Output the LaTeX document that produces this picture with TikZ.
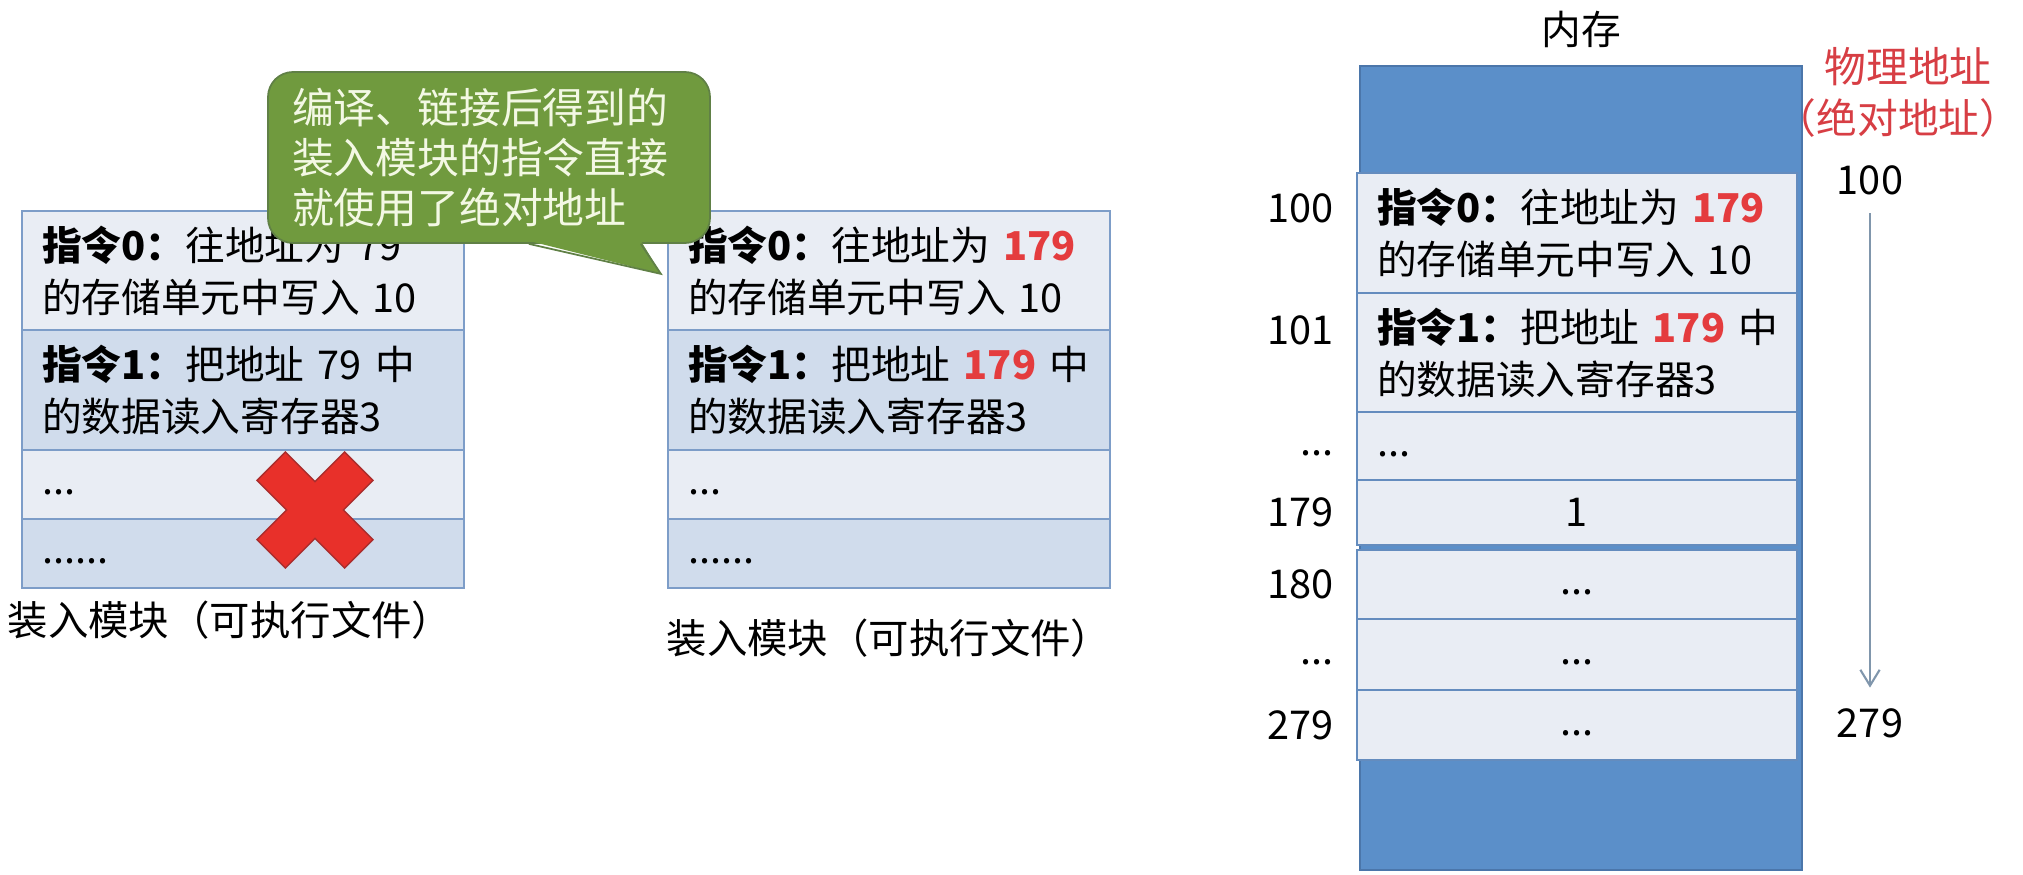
\documentclass[tikz,border=0pt]{standalone}
\usepackage{fontspec}
\setmainfont{Noto Sans CJK SC}
\usepackage{xcolor}
\usepackage{tikz}
\usetikzlibrary{arrows.meta, positioning}

\definecolor{boxline}{RGB}{125,157,200}
\definecolor{rowlight}{RGB}{233,237,244}
\definecolor{rowdark}{RGB}{208,220,236}
\definecolor{memblue}{RGB}{91,143,201}
\definecolor{memedge}{RGB}{75,118,170}
\definecolor{memline}{RGB}{100,140,190}
\definecolor{notegreen}{RGB}{112,154,62}
\definecolor{noteline}{RGB}{96,128,70}
\definecolor{notetext}{RGB}{243,248,228}
\definecolor{addrred}{RGB}{228,60,62}
\definecolor{labelred}{RGB}{215,62,68}
\definecolor{crossred}{RGB}{232,48,42}
\definecolor{crossedge}{RGB}{170,45,45}
\definecolor{arrowgray}{RGB}{128,150,172}

\newcommand\cellfont{\fontsize{11.3pt}{14.8pt}\selectfont}
\newcommand\notefont{\fontsize{11.9pt}{14.2pt}\selectfont}
\newcommand\captionfont{\fontsize{11.5pt}{14pt}\selectfont}
\newcommand\addrfont{\fontsize{11.3pt}{14pt}\selectfont}
\newcommand\physfont{\fontsize{11.6pt}{14pt}\selectfont}
\newcommand\hot[1]{\textcolor{addrred}{\textbf{#1}}}

\begin{document}
\begin{tikzpicture}[
            node distance=0pt,
            every node/.style={inner sep=0pt},
            cell/.style={
                rectangle,
                draw=boxline,
                line width=0.6pt,
                outer sep=0pt,
                minimum width=4.42cm,
                inner xsep=0.2cm,
                text width=4.02cm,
                align=left,
                font=\cellfont
            },
            tallcell/.style={cell, minimum height=1.19cm},
            shortcell/.style={cell, minimum height=0.69cm},
            light/.style={fill=rowlight},
            dark/.style={fill=rowdark},
            memcell/.style={
                cell,
                draw=memline,
                fill=rowlight,
                minimum width=4.40cm,
                text width=4.00cm
            },
            memcol/.style={
                rectangle,
                draw=memedge,
                fill=memblue,
                line width=0.6pt,
                minimum width=4.42cm,
                minimum height=8.04cm
            },
            caption/.style={font=\captionfont},
            addr/.style={font=\addrfont},
            phys/.style={font=\physfont, text=labelred},
            note/.style={
                rectangle,
                rounded corners=0.25cm,
                fill=notegreen,
                draw=noteline,
                line width=0.5pt,
                minimum width=4.42cm,
                minimum height=1.71cm,
                inner xsep=0.24cm,
                text width=3.94cm,
                align=left,
                text=notetext,
                font=\notefont
            },
            line/.style={
                draw=arrowgray,
                line width=0.6pt,
                -{Straight Barb[length=4.5pt, width=5.5pt]}
            }
        ]
            \useasboundingbox (0,0) rectangle (20.23,-8.75);

            % --- MODULO SIN RELOCAR ---
            \node [tallcell, light, anchor=north west] (l0) at (0.22,-2.11) {
                \textbf{指令0：}往地址为~79\\的存储单元中写入~10
            };
            \node [tallcell, dark, minimum height=1.20cm, below=of l0] (l1) {
                \textbf{指令1：}把地址~79~中\\的数据读入寄存器3
            };
            \node [shortcell, light, below=of l1] (l2) {\strut...};
            \node [shortcell, dark, below=of l2] (l3) {\strut......};
            \node [caption, below=0.12cm of l3.south, xshift=-0.13cm] (cap1) {装入模块（可执行文件）};

            % cruz roja
            \begin{scope}[shift={(3.15,-5.10)}, rotate=45]
                \filldraw [fill=crossred, draw=crossedge, line width=0.4pt]
                    (-0.62,-0.20) -- (-0.20,-0.20) -- (-0.20,-0.62) -- (0.20,-0.62) -- (0.20,-0.20) -- (0.62,-0.20)
                    -- (0.62,0.20) -- (0.20,0.20) -- (0.20,0.62) -- (-0.20,0.62) -- (-0.20,0.20) -- (-0.62,0.20) -- cycle;
            \end{scope}

            % --- MODULO CON DIRECCIONES ABSOLUTAS ---
            \node [tallcell, light, anchor=north west] (m0) at (6.68,-2.11) {
                \textbf{指令0：}往地址为~\hot{179}\\的存储单元中写入~10
            };
            \node [tallcell, dark, minimum height=1.20cm, below=of m0] (m1) {
                \textbf{指令1：}把地址~\hot{179}~中\\的数据读入寄存器3
            };
            \node [shortcell, light, below=of m1] (m2) {\strut...};
            \node [shortcell, dark, below=of m2] (m3) {\strut......};
            \node [caption, below=0.30cm of m3] (cap2) {装入模块（可执行文件）};

            % --- NOTA ---
            \node [note] (note) at (4.89,-1.575) {
                编译、链接后得到的\\装入模块的指令直接\\就使用了绝对地址
            };
            \fill [notegreen] ([xshift=-1.82cm, yshift=0.03cm]note.south east)
                -- ([xshift=-0.50cm, yshift=-0.30cm]note.south east)
                -- ([xshift=-0.70cm, yshift=0.03cm]note.south east) -- cycle;
            \draw [noteline, line width=0.5pt] ([xshift=-1.82cm]note.south east)
                -- ([xshift=-0.50cm, yshift=-0.30cm]note.south east)
                -- ([xshift=-0.70cm]note.south east);

            % --- MEMORIA ---
            \node [memcol] (memory) at (15.81,-4.68) {};
            \node [addr, above=0.16cm of memory] (memlabel) {内存};

            \node [memcell, minimum height=1.20cm, anchor=north west] (c100) at (13.57,-1.73) {
                \textbf{指令0：}往地址为~\hot{179}\\的存储单元中写入~10
            };
            \node [memcell, minimum height=1.19cm, below=of c100] (c101) {
                \textbf{指令1：}把地址~\hot{179}~中\\的数据读入寄存器3
            };
            \node [memcell, minimum height=0.68cm, below=of c101] (cdots1) {\strut...};
            \node [memcell, minimum height=0.65cm, align=center, below=of cdots1] (c179) {1};
            \node [memcell, minimum height=0.69cm, align=center, below=0.05cm of c179] (c180) {\strut...};
            \node [memcell, minimum height=0.71cm, align=center, below=of c180] (cdots2) {\strut...};
            \node [memcell, minimum height=0.70cm, align=center, below=of cdots2] (c279) {\strut...};

            % direcciones a la izquierda
            \node [addr, left=0.23cm of c100, yshift=0.25cm] (a100) {100};
            \node [addr, left=0.23cm of c101, yshift=0.22cm] (a101) {101};
            \node [addr, left=0.23cm of cdots1] (adots1) {\strut...};
            \node [addr, left=0.23cm of c179] (a179) {179};
            \node [addr, left=0.23cm of c180] (a180) {180};
            \node [addr, left=0.23cm of cdots2] (adots2) {\strut...};
            \node [addr, left=0.23cm of c279] (a279) {279};

            % direcciones fisicas
            \node [phys, font=\fontsize{11.9pt}{14pt}\selectfont] (phys) at (19.08,-0.67) {物理地址};
            \node [phys] (phys2) at (18.98,-1.18) {（绝对地址）};
            \node [addr] (p100) at (18.70,-1.80) {100};
            \node [addr] (p279) at (18.70,-7.23) {279};
            \path [line, shorten <=0.18cm, shorten >=0.20cm] (p100) -- (p279);
        \end{tikzpicture}
\end{document}
